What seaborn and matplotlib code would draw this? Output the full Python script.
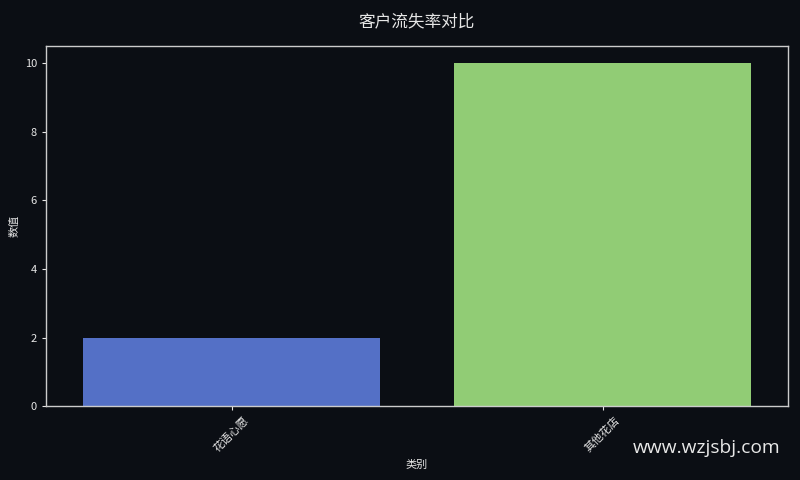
import pandas as pd
import seaborn as sns
from matplotlib import pyplot as plt

categories = ["花语心愿", "其他花店"]
values = [2, 10]
colors = ["#5470c6", "#91cc75"]

bg = "#0b0e14"
fg = "#e6e6e6"

sns.set_theme(style="dark")
plt.rcParams['font.family'] = ['Noto Sans CJK SC', 'DejaVu Sans']
plt.rcParams['axes.unicode_minus'] = False

data = pd.DataFrame({"类别": categories, "数值": values})

fig, ax = plt.subplots(figsize=(8, 4.8), dpi=100)
fig.patch.set_facecolor(bg)
ax.set_facecolor(bg)

sns.barplot(data=data, x="类别", y="数值", hue="类别", palette=colors,
            legend=False, saturation=1, width=0.8, linewidth=0, ax=ax)

ax.set_title("客户流失率对比", color=fg, fontsize=12, pad=14)
ax.set_xlabel("类别", color=fg, fontsize=8)
ax.set_ylabel("数值", color=fg, fontsize=8)
ax.tick_params(axis="both", colors=fg, labelsize=8, length=3, width=0.8,
               left=True, bottom=True)
plt.setp(ax.get_xticklabels(), rotation=45)
for s in ax.spines.values():
    s.set_color("#cccccc")
    s.set_linewidth(1)
ax.grid(False)

fig.subplots_adjust(left=0.0575, right=0.985, top=0.904, bottom=0.154)
fig.text(0.976, 0.066, "www.wzjsbj.com", color="#e8e8e8", fontsize=13.8,
         ha="right", va="center", family=["Open Sans", "DejaVu Sans"])

plt.savefig("out.png", facecolor=bg)
